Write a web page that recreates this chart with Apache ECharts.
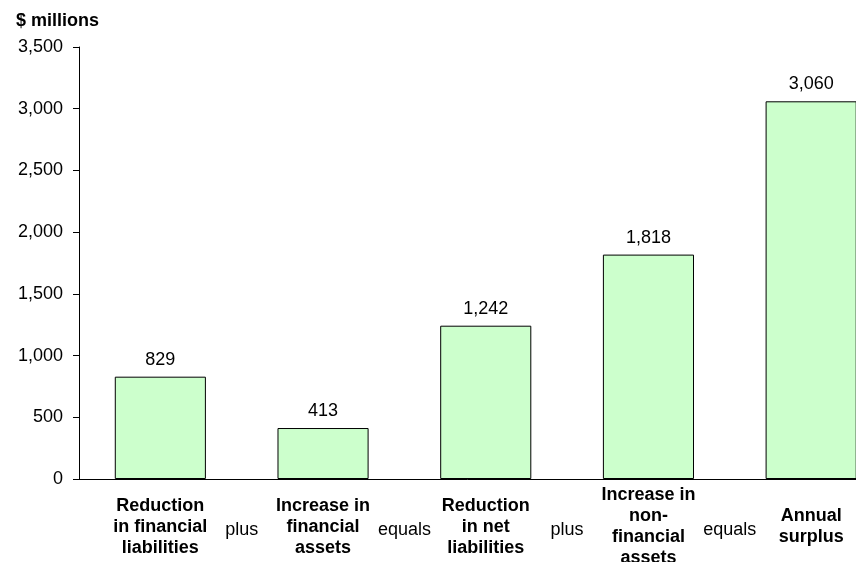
<!DOCTYPE html>
<html><head><meta charset="utf-8">
<script src="https://cdn.jsdelivr.net/npm/echarts@6/dist/echarts.min.js"></script>
<style>html,body{margin:0;padding:0;background:#fff}#c{width:856px;height:562px}</style>
</head><body><div id="c"></div>
<script>
const categories = ['Reduction\nin financial\nliabilities','Increase in\nfinancial\nassets','Reduction\nin net\nliabilities','Increase in\nnon-\nfinancial\nassets','Annual\nsurplus'];
const values = [829, 413, 1242, 1818, 3060];
const operators = ['', 'plus', 'equals', 'plus', 'equals', ''];
const yTicks = { min: 0, max: 3500, interval: 500 };
const unitLabel = '$ millions';

const fmt = v => Number(v).toLocaleString('en-US');
const FONT = 'Liberation Sans, Arial, sans-serif';
const chart = echarts.init(document.getElementById('c'), null, {renderer:'canvas'});
chart.setOption({
  animation: false,
  backgroundColor: '#fff',
  title: { text: unitLabel, left: 11, top: 7, textStyle: { fontFamily: FONT, fontSize: 18, fontWeight: 'bold', color: '#000' } },
  grid: { left: 79, right: -36.5, top: 47, bottom: 83, containLabel: false, outerBoundsMode: 'none' },
  xAxis: [
    { type: 'category', data: categories, position: 'bottom',
      axisLine: { show: true, lineStyle: { color: '#000', width: 1 } },
      axisTick: { show: false },
      axisLabel: { interval: 0, color: '#000', fontFamily: FONT, fontSize: 18, fontWeight: 'bold', lineHeight: 21, verticalAlign: 'middle', margin: 48 } },
    { type: 'category', data: operators, position: 'bottom', boundaryGap: false,
      axisLine: { show: false }, axisTick: { show: false }, splitLine: { show: false },
      axisLabel: { interval: 0, color: '#000', fontFamily: FONT, fontSize: 18, verticalAlign: 'middle', margin: 51 } }
  ],
  yAxis: { type: 'value', min: yTicks.min, max: yTicks.max, interval: yTicks.interval,
    axisLine: { show: true, lineStyle: { color: '#000', width: 1 } },
    axisTick: { show: true, length: 6, inside: false, lineStyle: { color: '#000' } },
    splitLine: { show: false },
    axisLabel: { formatter: fmt, color: '#000', fontFamily: FONT, fontSize: 18, margin: 16 } },
  series: [{
    type: 'bar', xAxisIndex: 0, data: values, barWidth: '56%',
    itemStyle: { color: '#CCFFCC', borderColor: '#000', borderWidth: 1 },
    label: { show: true, position: 'top', distance: 8, formatter: p => fmt(p.value), color: '#000', fontFamily: FONT, fontSize: 18 }
  }]
});
</script></body></html>
